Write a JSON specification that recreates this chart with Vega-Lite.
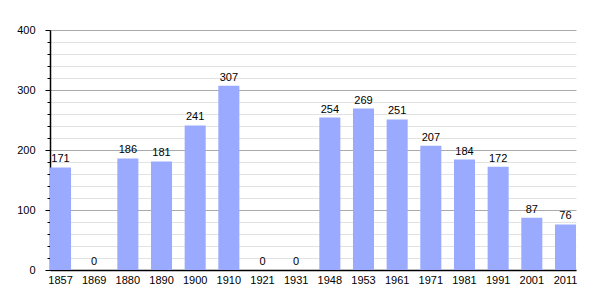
{
  "$schema": "https://vega.github.io/schema/vega-lite/v6.json",
  "width": 526,
  "height": 240,
  "autosize": {"type": "none"},
  "padding": {"left": 50, "top": 30, "right": 29, "bottom": 30},
  "background": "white",
  "config": {
    "view": {"stroke": null},
    "font": "Liberation Sans",
    "axis": {"labelFont": "Liberation Sans", "labelFontSize": 11, "labelColor": "#000", "domainColor": "#000", "tickColor": "#000"}
  },
  "data": {
    "values": [
      {"year": "1857", "pop": 171},
      {"year": "1869", "pop": 0},
      {"year": "1880", "pop": 186},
      {"year": "1890", "pop": 181},
      {"year": "1900", "pop": 241},
      {"year": "1910", "pop": 307},
      {"year": "1921", "pop": 0},
      {"year": "1931", "pop": 0},
      {"year": "1948", "pop": 254},
      {"year": "1953", "pop": 269},
      {"year": "1961", "pop": 251},
      {"year": "1971", "pop": 207},
      {"year": "1981", "pop": 184},
      {"year": "1991", "pop": 172},
      {"year": "2001", "pop": 87},
      {"year": "2011", "pop": 76}
    ]
  },
  "encoding": {
    "x": {
      "field": "year", "type": "nominal", "sort": null,
      "scale": {"paddingInner": 0.375, "paddingOuter": 0},
      "axis": {"title": null, "labelAngle": 0, "ticks": false, "labelPadding": 4, "domainWidth": 1.5}
    },
    "y": {
      "field": "pop", "type": "quantitative",
      "scale": {"domain": [0, 400], "nice": false},
      "axis": {
        "title": null,
        "values": [0, 20, 40, 60, 80, 100, 120, 140, 160, 180, 200, 220, 240, 260, 280, 300, 320, 340, 360, 380, 400],
        "labelExpr": "datum.value % 100 === 0 ? datum.label : ''",
        "gridColor": {"condition": {"test": "datum.value % 100 === 0", "value": "#aaaaaa"}, "value": "#e2e2e2"},
        "tickSize": {"condition": {"test": "datum.value % 100 === 0", "value": 5}, "value": 3},
        "labelPadding": 10,
        "domainWidth": 1.5
      }
    }
  },
  "layer": [
    {"mark": {"type": "bar", "color": "#9aabff"}},
    {
      "mark": {"type": "text", "baseline": "bottom", "dy": -3, "fontSize": 11, "color": "#000"},
      "encoding": {"text": {"field": "pop", "type": "quantitative"}}
    }
  ]
}
